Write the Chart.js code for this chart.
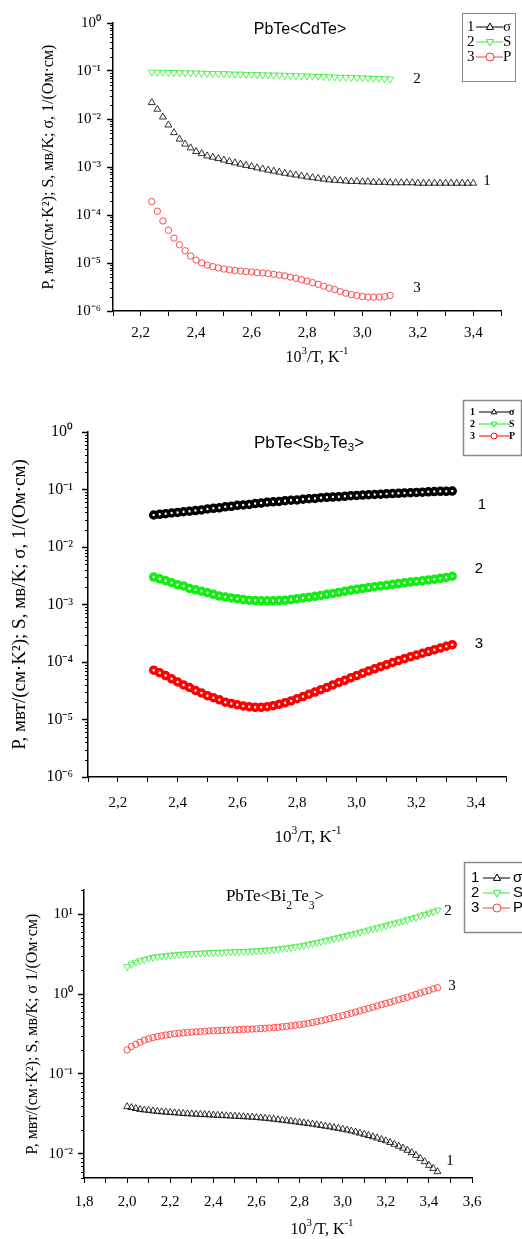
<!DOCTYPE html>
<html>
<head>
<meta charset="utf-8">
<script src="https://cdn.jsdelivr.net/npm/chart.js@4.4.1/dist/chart.umd.min.js"></script>
<style>
  html, body { margin: 0; padding: 0; background: #fff; }
  #wrap { position: relative; width: 522px; height: 1239px; overflow: hidden; }
  canvas { position: absolute; left: 0; }
</style>
</head>
<body>
<div id="wrap">
  <canvas id="c1" width="522" height="380" style="top:0px"></canvas>
  <canvas id="c2" width="522" height="470" style="top:380px"></canvas>
  <canvas id="c3" width="522" height="389" style="top:850px"></canvas>
</div>
<script>
// ---------- panel 1: PbTe<CdTe> ----------
const x1 = [2.24,2.26,2.28,2.30,2.32,2.34,2.36,2.38,2.40,2.42,2.44,2.46,2.48,2.50,2.52,2.54,2.56,2.58,2.60,2.62,
  2.64,2.66,2.68,2.70,2.72,2.74,2.76,2.78,2.80,2.82,2.84,2.86,2.88,2.90,2.92,2.94,2.96,2.98,3.00,3.02,
  3.04,3.06,3.08,3.10,3.12,3.14,3.16,3.18,3.20,3.22,3.24,3.26,3.28,3.30,3.32,3.34,3.36,3.38,3.40];
const sigma1 = [0.022,0.016,0.011,0.0075,0.0052,0.0038,0.0030,0.0025,0.0021,0.0019,
  0.0017,0.0016,0.0015,0.0014,0.0013,0.00122,0.00115,0.00108,0.00102,0.00096,
  0.00091,0.00086,0.00082,0.00078,0.00074,0.00071,0.00068,0.00065,0.00062,0.00060,
  0.00058,0.00056,0.00054,0.00053,0.00052,0.00051,0.00050,0.00050,0.00049,0.00049,
  0.00048,0.00048,0.00048,0.00047,0.00047,0.00047,0.00047,0.00047,0.00046,0.00046,
  0.00046,0.00046,0.00046,0.00046,0.00046,0.00046,0.00046,0.00046,0.00046];
const S1 = [0.095,0.094,0.094,0.093,0.093,0.092,0.092,0.091,0.091,0.090,
  0.089,0.089,0.088,0.088,0.087,0.086,0.086,0.085,0.085,0.084,
  0.083,0.083,0.082,0.082,0.081,0.080,0.080,0.079,0.078,0.078,
  0.077,0.076,0.076,0.075,0.074,0.074,0.073,0.072,0.072,0.071,
  0.070,0.070,0.069,0.068];
const P1 = [1.9e-4,1.2e-4,7.5e-5,4.8e-5,3.3e-5,2.4e-5,1.8e-5,1.4e-5,1.15e-5,1.0e-5,
  9.0e-6,8.4e-6,7.9e-6,7.5e-6,7.2e-6,7.0e-6,6.8e-6,6.6e-6,6.5e-6,6.3e-6,
  6.2e-6,6.0e-6,5.8e-6,5.6e-6,5.4e-6,5.1e-6,4.8e-6,4.5e-6,4.2e-6,3.9e-6,
  3.6e-6,3.3e-6,3.0e-6,2.8e-6,2.55e-6,2.35e-6,2.2e-6,2.1e-6,2.0e-6,1.95e-6,
  1.95e-6,1.95e-6,2.0e-6,2.1e-6];
const xTicks1 = [2.1,2.2,2.3,2.4,2.5,2.6,2.7,2.8,2.9,3.0,3.1,3.2,3.3,3.4,3.5];
const xLabels1 = [2.2,2.4,2.6,2.8,3.0,3.2,3.4];
const yDecades1 = [1e-6,1e-5,1e-4,1e-3,1e-2,1e-1,1];

// ---------- panel 2: PbTe<Sb2Te3> ----------
const x2 = [2.32,2.34,2.36,2.38,2.40,2.42,2.44,2.46,2.48,2.50,2.52,2.54,2.56,2.58,2.60,2.62,2.64,2.66,2.68,2.70,
  2.72,2.74,2.76,2.78,2.80,2.82,2.84,2.86,2.88,2.90,2.92,2.94,2.96,2.98,3.00,3.02,3.04,3.06,3.08,3.10,
  3.12,3.14,3.16,3.18,3.20,3.22,3.24,3.26,3.28,3.30,3.32];
const sigma2 = [0.036,0.037,0.038,0.039,0.040,0.041,0.042,0.043,0.044,0.046,
  0.047,0.048,0.050,0.051,0.053,0.054,0.055,0.057,0.058,0.060,
  0.061,0.062,0.064,0.065,0.066,0.068,0.069,0.070,0.072,0.073,
  0.074,0.075,0.076,0.078,0.079,0.080,0.081,0.082,0.083,0.084,
  0.085,0.086,0.087,0.088,0.089,0.090,0.091,0.092,0.093,0.093,0.094];
const S2 = [0.0030,0.0028,0.0026,0.0024,0.0022,0.0021,0.0019,0.0018,0.0017,0.0016,
  0.0015,0.0014,0.00135,0.0013,0.00126,0.00122,0.00119,0.00117,0.00116,0.00116,
  0.00116,0.00117,0.00119,0.00122,0.00126,0.0013,0.00134,0.00139,0.00144,0.0015,
  0.00156,0.00162,0.0017,0.00177,0.00184,0.0019,0.00197,0.00204,0.0021,0.00217,
  0.00224,0.00231,0.00238,0.00245,0.00252,0.0026,0.00268,0.00276,0.00285,0.00295,0.0031];
const P2 = [7.2e-5,6.5e-5,5.8e-5,5.1e-5,4.5e-5,4.0e-5,3.6e-5,3.2e-5,2.9e-5,2.6e-5,
  2.4e-5,2.2e-5,2.0e-5,1.9e-5,1.8e-5,1.72e-5,1.66e-5,1.63e-5,1.63e-5,1.67e-5,
  1.74e-5,1.84e-5,1.96e-5,2.1e-5,2.3e-5,2.5e-5,2.75e-5,3.0e-5,3.3e-5,3.6e-5,
  4.0e-5,4.4e-5,4.8e-5,5.3e-5,5.8e-5,6.4e-5,7.0e-5,7.6e-5,8.3e-5,9.0e-5,
  9.8e-5,1.06e-4,1.14e-4,1.23e-4,1.32e-4,1.42e-4,1.52e-4,1.63e-4,1.75e-4,1.88e-4,2.0e-4];
const xTicks2 = xTicks1;
const xLabels2 = xLabels1;
const yDecades2 = yDecades1;

// ---------- panel 3: PbTe<Bi2Te3> ----------
const x3 = [2.00,2.02,2.04,2.06,2.08,2.10,2.12,2.14,2.16,2.18,2.20,2.22,2.24,2.26,2.28,2.30,2.32,2.34,2.36,2.38,
  2.40,2.42,2.44,2.46,2.48,2.50,2.52,2.54,2.56,2.58,2.60,2.62,2.64,2.66,2.68,2.70,2.72,2.74,2.76,2.78,
  2.80,2.82,2.84,2.86,2.88,2.90,2.92,2.94,2.96,2.98,3.00,3.02,3.04,3.06,3.08,3.10,3.12,3.14,3.16,3.18,
  3.20,3.22,3.24,3.26,3.28,3.30,3.32,3.34,3.36,3.38,3.40,3.42,3.44];
const S3 = [2.2,2.35,2.5,2.6,2.7,2.8,2.87,2.93,2.98,3.02,
  3.06,3.1,3.13,3.16,3.18,3.2,3.22,3.24,3.26,3.28,
  3.3,3.32,3.33,3.35,3.37,3.38,3.4,3.41,3.43,3.45,
  3.47,3.5,3.53,3.56,3.6,3.65,3.7,3.76,3.82,3.9,
  3.98,4.07,4.17,4.28,4.4,4.52,4.65,4.79,4.93,5.08,
  5.24,5.4,5.57,5.75,5.93,6.12,6.32,6.52,6.73,6.95,
  7.18,7.42,7.67,7.93,8.2,8.5,8.8,9.1,9.5,9.9,
  10.3,10.7,11.2];
const P3 = [0.20,0.22,0.235,0.25,0.265,0.275,0.285,0.293,0.30,0.307,
  0.313,0.318,0.323,0.327,0.331,0.334,0.337,0.34,0.343,0.345,
  0.347,0.349,0.351,0.353,0.355,0.357,0.359,0.361,0.363,0.365,
  0.367,0.37,0.373,0.376,0.38,0.384,0.389,0.394,0.4,0.406,
  0.413,0.421,0.43,0.44,0.451,0.463,0.476,0.49,0.505,0.521,
  0.538,0.556,0.575,0.595,0.616,0.638,0.661,0.685,0.71,0.736,
  0.763,0.79,0.82,0.85,0.88,0.91,0.95,0.99,1.03,1.07,
  1.11,1.16,1.2];
const sigma3 = [0.039,0.038,0.037,0.036,0.0355,0.035,0.0345,0.034,0.0336,0.0333,
  0.033,0.0327,0.0324,0.0321,0.0318,0.0316,0.0314,0.0312,0.031,0.0308,
  0.0306,0.0304,0.0302,0.03,0.0298,0.0296,0.0294,0.0292,0.029,0.0288,
  0.0285,0.0282,0.0279,0.0276,0.0272,0.0268,0.0264,0.026,0.0256,0.0252,
  0.0248,0.0244,0.024,0.0236,0.0231,0.0227,0.0222,0.0218,0.0213,0.0209,
  0.0204,0.0199,0.0194,0.0188,0.0182,0.0176,0.017,0.0164,0.0158,0.0152,
  0.0146,0.0139,0.0132,0.0125,0.0118,0.0111,0.0104,0.0096,0.0088,0.008,
  0.0072,0.0066,0.006];
const xTicks3 = [1.8,1.9,2.0,2.1,2.2,2.3,2.4,2.5,2.6,2.7,2.8,2.9,3.0,3.1,3.2,3.3,3.4,3.5,3.6];
const xLabels3 = [1.8,2.0,2.2,2.4,2.6,2.8,3.0,3.2,3.4,3.6];
const yDecades3 = [0.01,0.1,1,10];

const SERIF = '"Liberation Serif", "Times New Roman", serif';
const SANS = '"Liberation Sans", Arial, sans-serif';

const SUP = {'-':'\u207B','0':'\u2070','1':'\u00B9','2':'\u00B2','3':'\u00B3','4':'\u2074','5':'\u2075','6':'\u2076'};
function powLabel(v) {
  const e = Math.round(Math.log10(v));
  return '10' + String(e).split('').map(c => SUP[c]).join('');
}

function pts(xs, ys) {
  return ys.map((y, i) => ({x: xs[i], y: y}));
}

function drawRich(ctx, parts, cx, cy, size, family, shift) {
  let w = 0;
  parts.forEach(([t, s]) => {
    ctx.font = (s ? size * 0.68 : size) + 'px ' + family;
    w += ctx.measureText(t).width;
  });
  let x = cx - w / 2;
  ctx.textAlign = 'left';
  ctx.textBaseline = 'middle';
  parts.forEach(([t, s]) => {
    ctx.font = (s ? size * 0.68 : size) + 'px ' + family;
    ctx.fillText(t, x, cy + s * size * shift);
    x += ctx.measureText(t).width;
  });
}

function drawMarker(ctx, style, x, y, r) {
  ctx.beginPath();
  if (style === 'circle') {
    ctx.arc(x, y, r, 0, Math.PI * 2);
  } else {
    const d = style === 'down' ? -1 : 1;
    ctx.moveTo(x, y - d * r);
    ctx.lineTo(x + r * 0.9, y + d * r * 0.6);
    ctx.lineTo(x - r * 0.9, y + d * r * 0.6);
    ctx.closePath();
  }
  ctx.fillStyle = '#fff';
  ctx.fill();
  ctx.stroke();
}

const decor = {
  id: 'decor',
  afterDraw(chart, args, o) {
    const ctx = chart.ctx;
    const ys = chart.scales.y;
    const area = chart.chartArea;
    ctx.save();
    // minor log ticks
    ctx.strokeStyle = '#000';
    ctx.lineWidth = 1;
    const e0 = Math.floor(Math.log10(ys.min)), e1 = Math.ceil(Math.log10(ys.max));
    for (let e = e0; e <= e1; e++) {
      for (let k = 2; k <= 9; k++) {
        const v = k * Math.pow(10, e);
        if (v < ys.min || v > ys.max) continue;
        const py = Math.round(ys.getPixelForValue(v)) + 0.5;
        ctx.beginPath();
        ctx.moveTo(area.left, py);
        ctx.lineTo(area.left - 3, py);
        ctx.stroke();
      }
    }
    // title
    ctx.fillStyle = '#000';
    drawRich(ctx, o.title.parts, o.title.x, o.title.y, o.title.size, o.title.family, o.title.shift);
    // x axis title
    drawRich(ctx, [['10', 0], ['3', -1], ['/T, K', 0], ['-1', -1]], o.xTitle.x, o.xTitle.y, o.xTitle.size, SERIF, 0.42);
    // curve numbers
    ctx.font = o.numFont;
    ctx.textAlign = 'center';
    ctx.textBaseline = 'middle';
    ctx.fillStyle = '#000';
    o.nums.forEach(n => ctx.fillText(n[0], n[1], n[2]));
    // legend
    const L = o.legend;
    ctx.strokeStyle = '#8a8a8a';
    ctx.lineWidth = L.bw;
    ctx.strokeRect(L.x + 0.5, L.y + 0.5, L.w, L.h);
    chart.data.datasets.forEach((ds, i) => {
      const y = L.rows[i];
      ctx.font = L.font;
      ctx.fillStyle = '#000';
      ctx.textAlign = 'left';
      ctx.textBaseline = 'middle';
      ctx.fillText(String(i + 1), L.numX, y);
      ctx.strokeStyle = ds.borderColor;
      ctx.lineWidth = 1;
      ctx.beginPath();
      ctx.moveTo(L.lineX0, y);
      ctx.lineTo(L.lineX1, y);
      ctx.stroke();
      drawMarker(ctx, L.markers[i], L.markX, y, L.mr);
      ctx.fillStyle = '#000';
      ctx.font = L.font;
      ctx.fillText(ds.label, L.labX, y);
    });
    ctx.restore();
  }
};

function makeChart(id, p) {
  return new Chart(document.getElementById(id), {
    type: 'scatter',
    data: { datasets: p.datasets },
    plugins: [decor],
    options: {
      responsive: false,
      animation: false,
      layout: { padding: { top: p.top, right: p.right, left: 0, bottom: 0 } },
      plugins: {
        legend: { display: false },
        tooltip: { enabled: false },
        decor: p.decor
      },
      scales: {
        x: {
          type: 'linear',
          min: p.xmin, max: p.xmax,
          afterFit: s => { s.height = p.xh; },
          afterBuildTicks: s => { s.ticks = p.xticks.map(v => ({ value: v })); },
          grid: { display: true, drawOnChartArea: false, drawTicks: true, tickLength: 5, color: '#000', tickColor: '#000' },
          border: { display: true, color: '#000', width: 1.5 },
          ticks: {
            autoSkip: false, maxRotation: 0, padding: p.xpad, color: '#000',
            font: { family: SERIF, size: 15 },
            callback: v => p.xlabels.includes(v) ? v.toFixed(1).replace('.', ',') : ''
          }
        },
        y: {
          type: 'logarithmic',
          min: p.ymin, max: p.ymax,
          afterFit: s => { s.width = p.left; },
          afterBuildTicks: s => { s.ticks = p.ydec.map(v => ({ value: v })); },
          grid: { display: true, drawOnChartArea: false, drawTicks: true, tickLength: 6, color: '#000', tickColor: '#000', tickWidth: 1.5 },
          border: { display: true, color: '#000', width: 1.5 },
          ticks: {
            autoSkip: false, padding: p.ypad, color: '#000',
            font: { family: SERIF, size: p.ytick },
            callback: v => powLabel(v)
          },
          title: {
            display: true, text: p.ytitle, color: '#000',
            font: { family: SERIF, size: p.ytSize },
            padding: { top: p.ytPad, bottom: 0 }
          }
        }
      }
    }
  });
}

function tri(label, data, color, down, r, bw) {
  return { label: label, data: data, showLine: false, pointStyle: 'triangle', rotation: down ? 180 : 0,
    pointRadius: r, borderColor: color, backgroundColor: 'rgba(0,0,0,0)', pointBorderWidth: bw };
}
function circ(label, data, color, r, bw) {
  return { label: label, data: data, showLine: false, pointStyle: 'circle',
    pointRadius: r, borderColor: color, backgroundColor: 'rgba(0,0,0,0)', pointBorderWidth: bw };
}

makeChart('c1', {
  datasets: [
    tri('σ', pts(x1, sigma1), '#000000', false, 4, 0.8),
    tri('S', pts(x1, S1), '#33ee33', true, 4, 0.8),
    circ('P', pts(x1, P1), '#ff3b3b', 3.2, 0.9)
  ],
  top: 23, right: 21, left: 113, xh: 69, xpad: 8, ypad: 6, ytick: 15,
  xmin: 2.1, xmax: 3.5, ymin: 1e-6, ymax: 1,
  xticks: xTicks1, xlabels: xLabels1, ydec: yDecades1,
  ytitle: 'P, мвт/(см·K²); S, мв/K; σ, 1/(Ом·см)', ytSize: 16, ytPad: 39,
  decor: {
    title: { parts: [['PbTe<CdTe>', 0]], x: 300, y: 30, size: 16, family: SANS, shift: 0.4 },
    xTitle: { x: 317, y: 358, size: 16 },
    numFont: '15px ' + SERIF,
    nums: [['2', 417, 79], ['1', 487, 181], ['3', 417, 288]],
    legend: { x: 462, y: 13, w: 53, h: 68, bw: 1, rows: [27, 42, 57], numX: 467, lineX0: 476, lineX1: 503,
      markX: 490, labX: 503, mr: 4, font: '15px ' + SERIF, markers: ['up', 'down', 'circle'] }
  }
});

makeChart('c2', {
  datasets: [
    circ('σ', pts(x2, sigma2), '#000000', 3, 3.5),
    circ('S', pts(x2, S2), '#11ee11', 3, 3.5),
    circ('P', pts(x2, P2), '#ff0000', 3, 3.5)
  ],
  top: 52, right: 16, left: 88, xh: 73, xpad: 12, ypad: 9, ytick: 16,
  xmin: 2.1, xmax: 3.5, ymin: 1e-6, ymax: 1,
  xticks: xTicks2, xlabels: xLabels2, ydec: yDecades2,
  ytitle: 'P, мвт/(см·K²); S, мв/K; σ, 1/(Ом·см)', ytSize: 19, ytPad: 9,
  decor: {
    title: { parts: [['PbTe<Sb', 0], ['2', 1], ['Te', 0], ['3', 1], ['>', 0]], x: 309, y: 63, size: 17, family: SANS, shift: 0.3 },
    xTitle: { x: 308, y: 458, size: 17 },
    numFont: '15px ' + SANS,
    nums: [['1', 482, 125], ['2', 479, 189], ['3', 479, 264]],
    legend: { x: 463, y: 20, w: 58, h: 55, bw: 1.5, rows: [32, 44, 56], numX: 470, lineX0: 479, lineX1: 510,
      markX: 494, labX: 509, mr: 3, font: 'bold 10px ' + SERIF, markers: ['up', 'down', 'circle'] }
  }
});

makeChart('c3', {
  datasets: [
    tri('σ', pts(x3, sigma3), '#000000', false, 4, 0.8),
    tri('S', pts(x3, S3), '#33ee33', true, 4, 0.8),
    circ('P', pts(x3, P3), '#ff3b3b', 3.2, 0.9)
  ],
  top: 40, right: 50, left: 84, xh: 61, xpad: 10, ypad: 5, ytick: 15,
  xmin: 1.8, xmax: 3.6, ymin: 0.005, ymax: 20,
  xticks: xTicks3, xlabels: xLabels3, ydec: yDecades3,
  ytitle: 'P, мвт/(см·K²); S, мв/K; σ 1/(Ом·см)', ytSize: 16, ytPad: 23,
  decor: {
    title: { parts: [['PbTe<Bi', 0], ['2', 1], ['Te', 0], ['3', 1], ['>', 0]], x: 275, y: 47, size: 17, family: SERIF, shift: 0.5 },
    xTitle: { x: 322, y: 380, size: 16 },
    numFont: '15px ' + SERIF,
    nums: [['2', 448, 61], ['3', 452, 136], ['1', 450, 311]],
    legend: { x: 464, y: 12, w: 70, h: 70, bw: 1.5, rows: [28, 43, 58], numX: 471, lineX0: 483, lineX1: 510,
      markX: 497, labX: 513, mr: 4, font: '15px ' + SANS, markers: ['up', 'down', 'circle'] }
  }
});
</script>
</body>
</html>
